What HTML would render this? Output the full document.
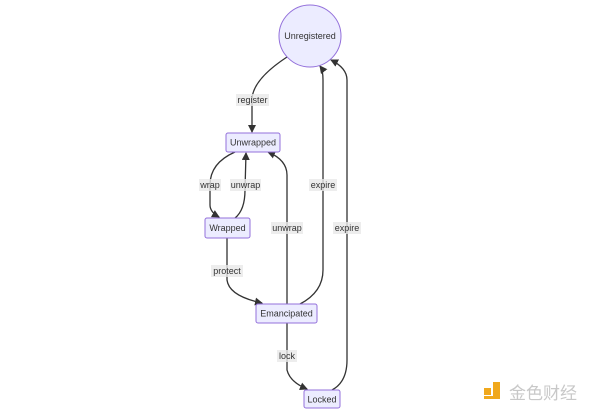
<!DOCTYPE html>
<html><head><style>
html,body{margin:0;padding:0;background:#fff;width:600px;height:412px;overflow:hidden}
svg{display:block}
text{font-family:"Liberation Sans","Noto Sans CJK SC",sans-serif;font-size:9px;fill:#333}
.n{fill:#ececff;stroke:#9370db;stroke-width:1}
.e{fill:none;stroke:#333;stroke-width:1.3}
.lb{fill:#e8e8e8;opacity:.8}
</style></head><body>
<svg width="600" height="412" viewBox="0 0 600 412">
<defs><marker id="a" markerWidth="8" markerHeight="8" refX="7" refY="4" orient="auto" markerUnits="userSpaceOnUse"><path d="M0,0L8,4L0,8z" fill="#333"/></marker></defs>
<path class="e" marker-end="url(#a)" d="M287,57 Q252,80 252,100 L252,132"/>
<path class="e" marker-end="url(#a)" d="M235,152 Q210,163 210,185 L210,205 Q210,212 219,217"/>
<path class="e" marker-end="url(#a)" d="M235,218 Q245,210 245,190 L246,153"/>
<path class="e" marker-end="url(#a)" d="M287,304 L287,175 Q287,160 268,152"/>
<path class="e" marker-end="url(#a)" d="M300,304 Q323,292 323,270 L323,80 Q323,70 320,66"/>
<path class="e" marker-end="url(#a)" d="M332,390 Q347,382 347,360 L347,80 Q347,68 331,60"/>
<path class="e" marker-end="url(#a)" d="M227,238 L227,280 Q229,296 262,303"/>
<path class="e" marker-end="url(#a)" d="M287,323 L287,370 Q290,382 307,389"/>
<circle class="n" cx="310" cy="36" r="31"/>
<text x="310" y="39" text-anchor="middle">Unregistered</text>
<rect class="n" x="226" y="133" width="54" height="19" rx="2"/><text x="253" y="145.5" text-anchor="middle">Unwrapped</text>
<rect class="n" x="205" y="218" width="45" height="20" rx="2"/><text x="227.5" y="231" text-anchor="middle">Wrapped</text>
<rect class="n" x="256" y="304" width="61" height="19" rx="2"/><text x="286.5" y="316.5" text-anchor="middle">Emancipated</text>
<rect class="n" x="304" y="390" width="36" height="18" rx="2"/><text x="322" y="402.5" text-anchor="middle">Locked</text>
<g>
<rect class="lb" x="236" y="94" width="33" height="12"/><text x="252.5" y="103" text-anchor="middle">register</text>
<rect class="lb" x="199" y="179" width="22" height="12"/><text x="210" y="188" text-anchor="middle">wrap</text>
<rect class="lb" x="230" y="179" width="31" height="12"/><text x="245.5" y="188" text-anchor="middle">unwrap</text>
<rect class="lb" x="271" y="222" width="32" height="12"/><text x="287" y="231" text-anchor="middle">unwrap</text>
<rect class="lb" x="309" y="179" width="28" height="12"/><text x="323" y="188" text-anchor="middle">expire</text>
<rect class="lb" x="333" y="222" width="28" height="12"/><text x="347" y="231" text-anchor="middle">expire</text>
<rect class="lb" x="211" y="265" width="32" height="12"/><text x="227" y="274" text-anchor="middle">protect</text>
<rect class="lb" x="277" y="350" width="20" height="12"/><text x="287" y="359" text-anchor="middle">lock</text>
</g>
<rect x="484" y="388" width="7" height="7" fill="#f0a81c"/>
<path d="M493,382h7v17h-16v-3h9z" fill="#f0a81c"/>
<text x="509" y="399" style="font-size:17px;fill:#c8c8c8">金色财经</text>
</svg>
</body></html>
